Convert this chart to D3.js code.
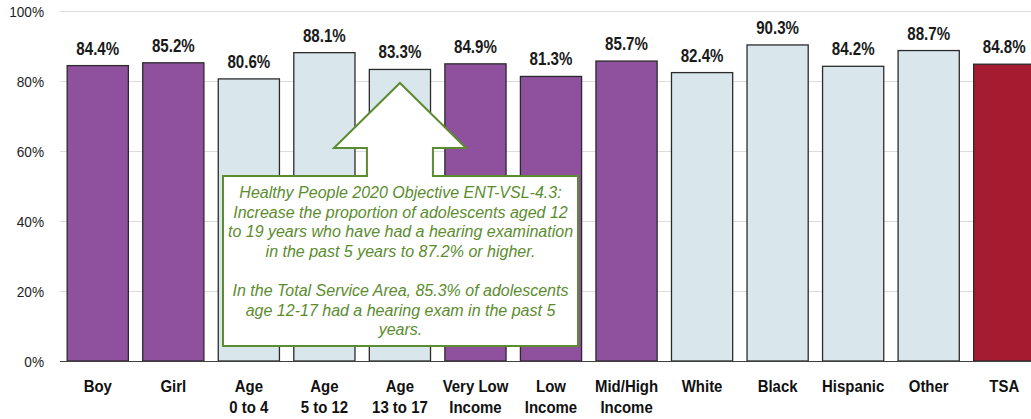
<!DOCTYPE html>
<html>
<head>
<meta charset="utf-8">
<script src="https://cdn.jsdelivr.net/npm/d3@7/dist/d3.min.js"></script>
<style>
  html, body { margin: 0; padding: 0; background: #fff; overflow: hidden; }
  svg { display: block; }
  .sans { font-family: "Liberation Sans", Arial, sans-serif; }
</style>
</head>
<body>
<svg id="chart" width="1031" height="419"></svg>
<script>
// Hearing exam in the past 5 years, by demographic group
const categories = ["Boy", "Girl", "Age\n0 to 4", "Age\n5 to 12", "Age\n13 to 17", "Very Low\nIncome",
  "Low\nIncome", "Mid/High\nIncome", "White", "Black", "Hispanic", "Other", "TSA"];
const values = [84.4, 85.2, 80.6, 88.1, 83.3, 84.9, 81.3, 85.7, 82.4, 90.3, 84.2, 88.7, 84.8];
const groups = ["sex", "sex", "age", "age", "age", "income", "income", "income",
  "race", "race", "race", "race", "total"];
const yTicks = [0, 20, 40, 60, 80, 100];
const calloutLines = [
  "Healthy People 2020 Objective ENT-VSL-4.3:",
  "Increase the proportion of adolescents aged 12",
  "to 19 years who have had a hearing examination",
  "in the past 5 years to 87.2% or higher.",
  "",
  "In the Total Service Area, 85.3% of adolescents",
  "age 12-17 had a hearing exam in the past 5",
  "years."
];

const groupColor = { sex: "#8f509d", age: "#d9e7ed", income: "#8f509d", race: "#d9e7ed", total: "#a51c31" };

const svg = d3.select("#chart");
const x = d3.scaleBand().domain(categories).range([60, 1042]).paddingInner(0.19).paddingOuter(0.095);
const y = d3.scaleLinear().domain([0, 100]).range([361, 11]);
const mid = d => x(d) + x.bandwidth() / 2;

// condensed text: regular sans squeezed horizontally
const squeeze = (px, py, s) => `translate(${px},${py}) scale(${s},1)`;

// gridlines
svg.append("g").selectAll("line").data(yTicks.filter(t => t > 0)).join("line")
  .attr("x1", 60).attr("x2", 1031)
  .attr("y1", d => y(d) + 0.5).attr("y2", d => y(d) + 0.5)
  .attr("stroke", "#dcdcdc").attr("stroke-width", 1);

// y tick labels
svg.append("g").selectAll("text").data(yTicks).join("text")
  .attr("class", "sans")
  .attr("transform", d => squeeze(44, y(d) + 5.5, 0.88))
  .attr("text-anchor", "end")
  .attr("font-size", 15.5).attr("fill", "#222")
  .text(d => d + "%");

// bars
svg.append("g").selectAll("rect").data(categories).join("rect")
  .attr("x", d => x(d))
  .attr("y", (d, i) => y(values[i]))
  .attr("width", x.bandwidth())
  .attr("height", (d, i) => y(0) - y(values[i]))
  .attr("fill", (d, i) => groupColor[groups[i]])
  .attr("stroke", "#2b2b2b").attr("stroke-width", 1.3);

// value labels
svg.append("g").selectAll("text").data(categories).join("text")
  .attr("class", "sans")
  .attr("transform", (d, i) => squeeze(mid(d), y(values[i]) - 11, 0.84))
  .attr("text-anchor", "middle")
  .attr("font-size", 18).attr("font-weight", "bold").attr("fill", "#1a1a1a")
  .text((d, i) => values[i].toFixed(1) + "%");

// baseline
svg.append("line")
  .attr("x1", 60).attr("x2", 1031)
  .attr("y1", y(0) + 0.5).attr("y2", y(0) + 0.5)
  .attr("stroke", "#404040").attr("stroke-width", 1.2);

// category labels
const catG = svg.append("g").selectAll("text").data(categories).join("text")
  .attr("class", "sans")
  .attr("transform", d => squeeze(mid(d), 392, 0.88))
  .attr("text-anchor", "middle")
  .attr("font-size", 17).attr("font-weight", "bold").attr("fill", "#111");
catG.each(function (d) {
  const t = d3.select(this);
  d.split("\n").forEach((line, k) => {
    t.append("tspan").attr("x", 0).attr("dy", k === 0 ? 0 : 21.5).text(line);
  });
});

// callout: box with an up-pointing arrow toward the adolescent age group
const green = "#5b8c2f";
const cx = mid("Age\n13 to 17");
const box = { left: 223, right: 578, top: 176, bottom: 346 };
const tipY = 83, headY = 148, headHalf = 66, shaftHalf = 33;
const path = d3.path();
path.moveTo(box.left, box.top);
path.lineTo(cx - shaftHalf, box.top);
path.lineTo(cx - shaftHalf, headY);
path.lineTo(cx - headHalf, headY);
path.lineTo(cx, tipY);
path.lineTo(cx + headHalf, headY);
path.lineTo(cx + shaftHalf, headY);
path.lineTo(cx + shaftHalf, box.top);
path.lineTo(box.right, box.top);
path.lineTo(box.right, box.bottom);
path.lineTo(box.left, box.bottom);
path.closePath();
svg.append("path").attr("d", path.toString())
  .attr("fill", "#fff").attr("stroke", green).attr("stroke-width", 2).attr("stroke-linejoin", "miter");

svg.append("g").selectAll("text").data(calloutLines).join("text")
  .attr("class", "sans")
  .attr("x", (box.left + box.right) / 2)
  .attr("y", (d, i) => 198 + i * 19.6)
  .attr("text-anchor", "middle")
  .attr("font-size", 16).attr("font-style", "italic").attr("fill", green)
  .text(d => d);
</script>
</body>
</html>
